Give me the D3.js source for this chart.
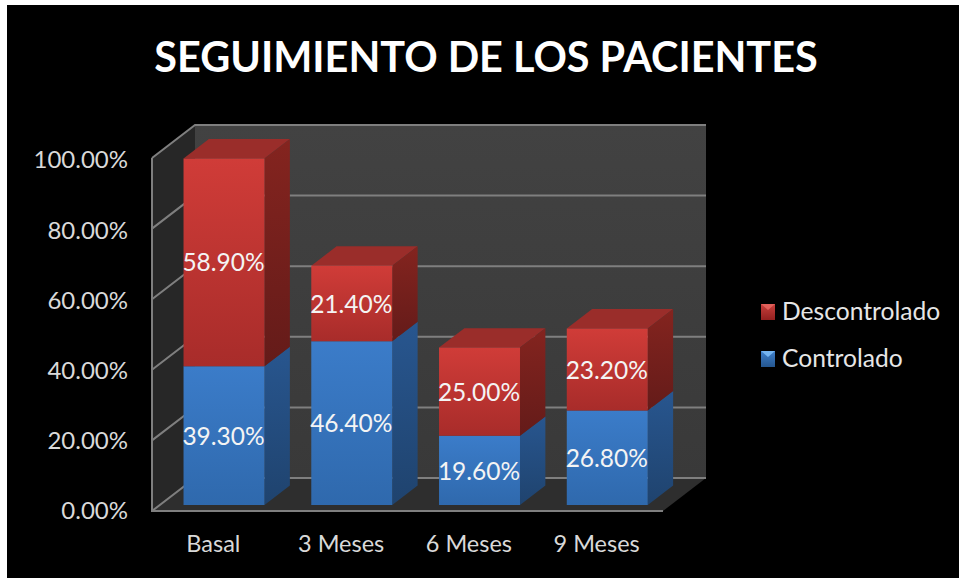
<!DOCTYPE html>
<html><head><meta charset="utf-8">
<script src="https://cdnjs.cloudflare.com/ajax/libs/d3/7.8.5/d3.min.js"></script>
<style>html,body{margin:0;padding:0;background:#fff}svg{display:block}text{font-family:Lato,"Open Sans",sans-serif}</style>
</head><body><svg id="c" width="959" height="578"></svg>
<script>
const titleText = "SEGUIMIENTO DE LOS PACIENTES";
const categories = ["Basal","3 Meses","6 Meses","9 Meses"];
const seriesNames = ["Controlado","Descontrolado"];
const controlado = [39.3,46.4,19.6,26.8];
const descontrolado = [58.9,21.4,25.0,23.2];
const yTicks = [0,20,40,60,80,100];

const svg = d3.select("#c");
const defs = svg.append("defs");
function grad(id, stops, x2, y2){
  const g = defs.append("linearGradient").attr("id",id).attr("x1",0).attr("y1",0).attr("x2",x2).attr("y2",y2);
  stops.forEach(([o,c])=>g.append("stop").attr("offset",o).attr("stop-color",c));
}
grad("rf",[[0,"#d03c38"],[1,"#a82c2a"]],0,1);
grad("rs",[[0,"#84241f"],[1,"#641b19"]],0,1);
grad("bf",[[0,"#3b7cc9"],[1,"#2f69ad"]],0,1);
grad("bs",[[0,"#28568f"],[1,"#1f436e"]],0,1);
grad("wall",[[0,"#424242"],[1,"#393939"]],0,1);
grad("lr",[[0,"#c9403c"],[1,"#93201f"]],0,1);
grad("lb",[[0,"#3f80cc"],[1,"#24568f"]],0,1);

svg.append("rect").attr("x",7).attr("y",5).attr("width",952).attr("height",573).attr("fill","#000");

const frontX0=152, plotW=511, frontY0=511, plotH=353, depthX=43, depthY=-33;
const y = d3.scaleLinear().domain([0,100]).range([frontY0,frontY0-plotH]);
const yLabel = d3.scaleLinear().domain([0,100]).range([511,160]);
const x = d3.scaleBand().domain(categories).range([frontX0,frontX0+plotW]).paddingInner(0.36).paddingOuter(0.18);
const P = (px,val,d)=>[px+depthX*d, y(val)+depthY*d];
const poly = pts=>pts.map(p=>p.join(",")).join(" ");

const g = svg.append("g");
const fx1 = frontX0+plotW;
// walls and floor
g.append("polygon").attr("points",poly([P(frontX0,0,1),P(fx1,0,1),P(fx1,100,1),P(frontX0,100,1)])).attr("fill","url(#wall)");
g.append("polygon").attr("points",poly([P(frontX0,0,0),P(frontX0,0,1),P(frontX0,100,1),P(frontX0,100,0)])).attr("fill","#272727");
g.append("polygon").attr("points",poly([P(frontX0,0,0),P(fx1,0,0),P(fx1,0,1),P(frontX0,0,1)])).attr("fill","#2e2e2e");
const gridC="#7f7f7f";
yTicks.forEach(t=>{
  g.append("polyline").attr("points",poly([P(frontX0,t,0),P(frontX0,t,1),P(fx1,t,1)]))
   .attr("fill","none").attr("stroke",gridC).attr("stroke-width",2);
});
g.append("line").attr("x1",frontX0).attr("x2",frontX0).attr("y1",y(0)).attr("y2",y(100)).attr("stroke",gridC).attr("stroke-width",2);
g.append("line").attr("x1",frontX0-1).attr("x2",fx1).attr("y1",y(0)).attr("y2",y(0)).attr("stroke",gridC).attr("stroke-width",2);

// bars
const d0=0.18, d1=0.77;
function segment(px,w,a,b,front,side,topFill){
  if(topFill) g.append("polygon").attr("points",poly([P(px,b,d0),P(px+w,b,d0),P(px+w,b,d1),P(px,b,d1)])).attr("fill",topFill);
  g.append("polygon").attr("points",poly([P(px+w,a,d0),P(px+w,a,d1),P(px+w,b,d1),P(px+w,b,d0)])).attr("fill",`url(#${side})`);
  g.append("polygon").attr("points",poly([P(px,a,d0),P(px+w,a,d0),P(px+w,b,d0),P(px,b,d0)])).attr("fill",`url(#${front})`);
}
categories.forEach((c,i)=>{
  const px=x(c)+0.8, w=x.bandwidth()-0.8;
  const a=controlado[i], b=a+descontrolado[i];
  segment(px,w,0,a,"bf","bs",null);
  segment(px,w,a,b,"rf","rs","#9a2d2a");
  const mid=px+depthX*d0+w/2;
  const lab=(v,val)=>g.append("text").attr("x",mid-0.5).attr("y",P(px,v,d0)[1]+0.5).attr("dy","0.35em").attr("text-anchor","middle")
    .attr("fill","#f4f4f4").attr("font-size",24.5).text(val.toFixed(2)+"%");
  lab(a/2,a); lab(a+descontrolado[i]/2,descontrolado[i]);
  g.append("text").attr("x",x(c)+x.bandwidth()/2-2.5).attr("y",552).attr("text-anchor","middle").attr("fill","#d9d9d9").attr("font-size",23.5).text(c);
});
yTicks.forEach(t=>{
  g.append("text").attr("x",128).attr("y",yLabel(t)).attr("dy","0.35em").attr("text-anchor","end").attr("fill","#d9d9d9").attr("font-size",24).text(t.toFixed(2)+"%");
});
// title
svg.append("text").attr("x",486).attr("y",72).attr("text-anchor","middle").attr("fill","#fff").attr("font-weight",700).attr("font-size",41.4).text(titleText);
// legend
const lg=[[seriesNames[1],"lr",311,"#e0605a"],[seriesNames[0],"lb",358,"#74b4f0"]];
lg.forEach(([n,f,yy,hi])=>{
  const sx=761, sy=yy-7;
  svg.append("rect").attr("x",sx).attr("y",sy).attr("width",14).attr("height",16).attr("fill",`url(#${f})`);
  svg.append("polygon").attr("points",poly([[sx,sy],[sx+14,sy],[sx+7,sy+6]])).attr("fill",hi);
  svg.append("text").attr("x",782).attr("y",yy).attr("dy","0.35em").attr("fill","#e6e6e6").attr("font-size",24.6).text(n);
});
</script></body></html>
